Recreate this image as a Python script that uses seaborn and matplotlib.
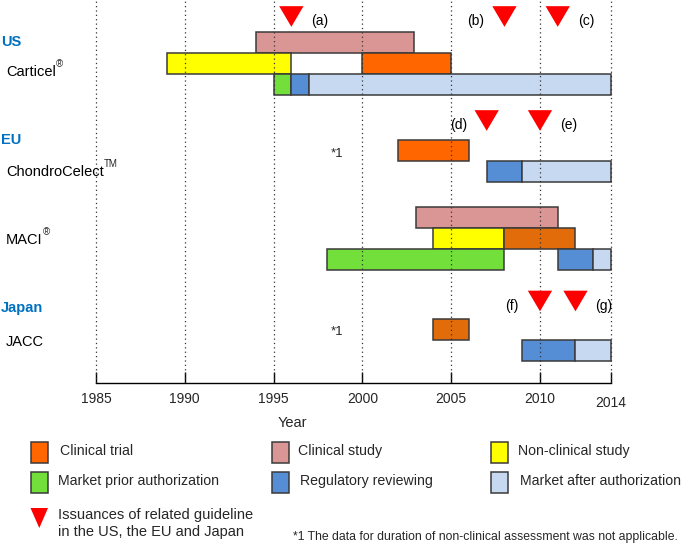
import matplotlib
matplotlib.use("Agg")
import matplotlib.pyplot as plt
from matplotlib.patches import Rectangle, Polygon
import seaborn as sns
import pandas as pd

# phase colours
phase_colors = {
    "Clinical trial": "#FF6600",
    "Clinical trial (late)": "#E36C0A",
    "Clinical study": "#DA9694",
    "Non-clinical study": "#FFFF00",
    "Market prior authorization": "#72DF3A",
    "Regulatory reviewing": "#558ED5",
    "Market after authorization": "#C6D9F1",
}

# bars: product, row inside product, phase, start year, end year
bar_product = ["Carticel"] * 6 + ["ChondroCelect"] * 3 + ["MACI"] * 6 + ["JACC"] * 3
bar_row = [0, 1, 1, 2, 2, 2,
           0, 1, 1,
           0, 1, 1, 2, 2, 2,
           0, 1, 1]
bar_phase = ["Clinical study", "Non-clinical study", "Clinical trial",
             "Market prior authorization", "Regulatory reviewing", "Market after authorization",
             "Clinical trial", "Regulatory reviewing", "Market after authorization",
             "Clinical study", "Non-clinical study", "Clinical trial (late)",
             "Market prior authorization", "Regulatory reviewing", "Market after authorization",
             "Clinical trial (late)", "Regulatory reviewing", "Market after authorization"]
bar_start = [1994, 1989, 2000, 1995, 1996, 1997,
             2002, 2007, 2009,
             2003, 2004, 2008, 1998, 2011, 2013,
             2004, 2009, 2012]
bar_end = [2002.9, 1996, 2005, 1996, 1997, 2014,
           2006, 2009, 2014,
           2011, 2008, 2012, 2008, 2013, 2014,
           2006, 2012, 2014]

# guideline issuances
guide_label = ["(a)", "(b)", "(c)", "(d)", "(e)", "(f)", "(g)"]
guide_year = [1996, 2008, 2011, 2007, 2010, 2010, 2012]
guide_region = ["US", "US", "US", "EU", "EU", "Japan", "Japan"]
guide_side = [1, -1, 1, -1, 1, -1, 1]

regions = ["US", "EU", "Japan"]
products = ["Carticel", "ChondroCelect", "MACI", "JACC"]
product_marks = ["®", "TM", "®", ""]
year_ticks = [1985, 1990, 1995, 2000, 2005, 2010, 2014]

# layout (pixel rows from the top of the chart area)
W, H = 684, 546
AXIS_Y = 383.3
ROW_H = 21
product_top = {"Carticel": 31.7, "ChondroCelect": 140, "MACI": 206.7, "JACC": 319.3}
product_label_y = {"Carticel": 72, "ChondroCelect": 172, "MACI": 240, "JACC": 342}
region_label_y = {"US": 42, "EU": 140, "Japan": 308}
region_tri_y = {"US": 16.5, "EU": 120.5, "Japan": 301}
note_y = {"ChondroCelect": 154, "JACC": 332}

sns.set_theme(style="white")
plt.rcParams["font.family"] = ["Liberation Sans", "DejaVu Sans"]

df = pd.DataFrame({"product": bar_product, "row": bar_row, "phase": bar_phase,
                   "start": bar_start, "end": bar_end})
df["y"] = df["product"].map(product_top) + (df["row"] + 0.5) * ROW_H

fig = plt.figure(figsize=(W / 100, H / 100), dpi=100)
# x scale: 1985 at px 96, 2014 at px 611
px_per_year = (611 - 96) / 29
x0 = 1985 - 96 / px_per_year
x1 = 2014 + (W - 611) / px_per_year
ax = fig.add_axes([0, 1 - AXIS_Y / H, 1, AXIS_Y / H])
ax.set_xlim(x0, x1)
ax.set_ylim(AXIS_Y, 0)

ax.barh(df["y"], df["end"] - df["start"], left=df["start"], height=ROW_H,
        color=[phase_colors[p] for p in df["phase"]], edgecolor="#3a3a3a",
        linewidth=1.1, zorder=2)

for yr in year_ticks:
    ax.axvline(yr, color="#333333", ls=(0, (1, 2.5)), lw=0.9, zorder=3)

# guideline triangles
tri = [(-1, 0.85), (1, 0.85), (0, -0.85)]
gdf = pd.DataFrame({"year": guide_year, "region": guide_region})
gdf["y"] = gdf["region"].map(region_tri_y)
sns.scatterplot(data=gdf, x="year", y="y", marker=tri, s=17.5 ** 2, color="#FF0000",
                edgecolor="none", ax=ax, zorder=4, legend=False)
for lab, yr, reg, side in zip(guide_label, guide_year, guide_region, guide_side):
    ax.text(yr + side * 1.6, region_tri_y[reg] + 5, lab, ha="center", va="center",
            fontsize=10, color="black")

# region and product labels
for reg in regions:
    ax.text(1 / W, region_label_y[reg], reg, transform=ax.get_yaxis_transform(),
            ha="left", va="center", fontsize=10.5, fontweight="bold", color="#0070C0")
prod_texts = []
for prod in products:
    t = ax.text(6 / W, product_label_y[prod], prod, transform=ax.get_yaxis_transform(),
                ha="left", va="center", fontsize=10.5, color="black")
    prod_texts.append(t)
for prod, yy in note_y.items():
    ax.text(1998.2, yy, "*1", ha="left", va="center", fontsize=9.5)

# year axis
for s in ["top", "left", "right"]:
    ax.spines[s].set_visible(False)
ax.spines["bottom"].set_bounds(1985, 2014)
ax.spines["bottom"].set_color("black")
ax.spines["bottom"].set_linewidth(1)
ax.set_yticks([])
ax.yaxis.label.set_visible(False)
ax.set_xticks(year_ticks)
ax.tick_params(axis="x", direction="in", length=8, width=1, color="black",
               labelsize=10, pad=6, bottom=True)
ax.xaxis.get_major_ticks()[-1].set_pad(9)
ax.set_xlabel("Year", fontsize=10.5)
ax.xaxis.set_label_coords(292 / W, -33 / AXIS_Y)
ax.grid(False)

# superscript marks after the product names
fig.canvas.draw()
renderer = fig.canvas.get_renderer()
for t, mark in zip(prod_texts, product_marks):
    if not mark:
        continue
    bb = t.get_window_extent(renderer)
    fig.text((bb.x1 + 0.5) / W, (bb.y1 + 1) / H, mark, ha="left", va="center", fontsize=7)

# legend (pixel coordinates)
lax = fig.add_axes([0, 0, 1, 1], zorder=-1)
lax.set_xlim(0, W)
lax.set_ylim(H, 0)
lax.axis("off")
legend_items = [
    ("Clinical trial", "#FF6600", 31, 441.7, 60),
    ("Clinical study", "#DA9694", 271.5, 441.7, 298),
    ("Non-clinical study", "#FFFF00", 491, 441.7, 517.5),
    ("Market prior authorization", "#72DF3A", 31, 471.7, 58),
    ("Regulatory reviewing", "#558ED5", 271.5, 471.7, 299.5),
    ("Market after authorization", "#C6D9F1", 491, 471.7, 519.5),
]
for lab, col, bx, by, tx in legend_items:
    lax.add_patch(Rectangle((bx, by), 17, 21.6, facecolor=col, edgecolor="#3a3a3a", lw=1.1))
    lax.text(tx, by + 9, lab, ha="left", va="center", fontsize=10.2)
lax.add_patch(Polygon([(30.5, 508), (48, 508), (39.3, 528)], closed=True,
                      facecolor="#FF0000", edgecolor="none"))
lax.text(58, 515, "Issuances of related guideline", ha="left", va="center", fontsize=10.5)
lax.text(58, 532, "in the US, the EU and Japan", ha="left", va="center", fontsize=10.5)
lax.text(293, 537, "*1 The data for duration of non-clinical assessment was not applicable.",
         ha="left", va="center", fontsize=8.8)

fig.savefig("out.png", dpi=100)
